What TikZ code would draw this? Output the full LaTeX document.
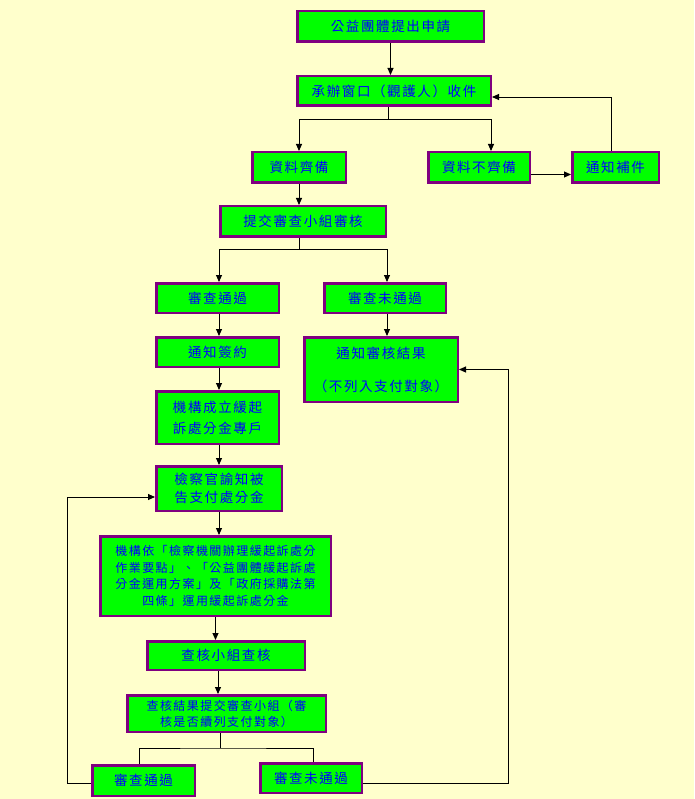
\documentclass[tikz,border=0pt]{standalone}
\usepackage{fontspec}
\newfontfamily\cjk{Noto Sans CJK TC}[LetterSpace=12]
\usetikzlibrary{arrows.meta}
\definecolor{paleyellow}{RGB}{255,255,204}
\definecolor{boxgreen}{RGB}{0,255,0}
\definecolor{boxpurple}{RGB}{128,0,128}
\definecolor{textblue}{RGB}{0,0,255}
\tikzset{
  paso/.style={
    draw=boxpurple,
    fill=boxgreen,
    line width=2.5pt,
    text=textblue,
    align=center,
    inner sep=2pt,
    font=\cjk\fontsize{13.5}{18}\selectfont
  },
  chico/.style={
    font=\cjk\fontsize{12}{16.5}\selectfont
  },
  arrow/.style={
    -{Triangle[length=7pt,width=6pt]},
    line width=.9pt,
    black
  },
  linea/.style={
    line width=.9pt,
    black
  }
}

\begin{document}
\begin{tikzpicture}[x=1pt,y=-1pt]
\fill[paleyellow] (0,0) rectangle (694,799);
\useasboundingbox (0,0) rectangle (694,799);
% solicitud y recepcion
\node[paso,minimum width=186.5pt,minimum height=30.5pt] (shenqing) at (390.5,26.5) {公益團體提出申請};
\node[paso,minimum width=193.5pt,minimum height=29.5pt] (shoujian) at (394,91) {承辦窗口（觀護人）收件};
\node[paso,minimum width=93.5pt,minimum height=30.5pt] (qibei) at (299,167.5) {資料齊備};
\node[paso,minimum width=101.5pt,minimum height=30.5pt] (buqibei) at (479,167.5) {資料不齊備};
\node[paso,minimum width=86.5pt,minimum height=30.5pt] (bujian) at (615.5,167.5) {通知補件};
% revision
\node[paso,minimum width=165.5pt,minimum height=30.5pt] (tijiao) at (303,221.5) {提交審查小組審核};
\node[paso,minimum width=122.5pt,minimum height=29.5pt] (tongguo) at (217.5,298) {審查通過};
\node[paso,minimum width=121.5pt,minimum height=29.5pt] (weitongguo) at (385,298) {審查未通過};
\node[paso,minimum width=122.5pt,minimum height=29.5pt] (qianyue) at (217.5,352) {通知簽約};
\node[paso,minimum width=153.5pt,minimum height=64.5pt,font=\cjk\fontsize{13.5}{16.5}\selectfont] (jieguo) at (381,369.5) {通知審核結果\\[16.5pt]（不列入支付對象）};
\node[paso,minimum width=122.5pt,minimum height=52.5pt,font=\cjk\fontsize{13.5}{21}\selectfont] (zhuanhu) at (217.5,417.5) {機構成立緩起\\訴處分金專戶};
\node[paso,minimum width=125.5pt,minimum height=44.5pt] (yuzhi) at (219,488.5) {檢察官諭知被\\告支付處分金};
% uso y control
\node[paso,chico,minimum width=230.5pt,minimum height=79.5pt] (yunyong) at (215.5,576) {機構依「檢察機關辦理緩起訴處分\\作業要點」、「公益團體緩起訴處\\分金運用方案」及「政府採購法第\\四條」運用緩起訴處分金};
\node[paso,minimum width=157.5pt,minimum height=28.5pt] (chahe) at (226,655.5) {查核小組查核};
\node[paso,chico,minimum width=198.5pt,minimum height=36.5pt,font=\cjk\fontsize{12}{16}\selectfont] (chaheJieguo) at (226.5,713.5) {查核結果提交審查小組（審\\核是否續列支付對象）};
\node[paso,minimum width=102.5pt,minimum height=30.5pt] (tongguoB) at (143.5,780.5) {審查通過};
\node[paso,minimum width=101.5pt,minimum height=29.5pt] (weitongguoB) at (311,778) {審查未通過};

\draw[arrow] (shenqing.south) -- (shenqing.south |- shoujian.north);
\draw[linea] ([xshift=-6pt]shoujian.south) -- ++(0,12) coordinate (f1);
\draw[arrow] (f1) -| (qibei.north);
\draw[arrow] (f1) -| ([xshift=12pt]buqibei.north);
\draw[arrow] ([yshift=-7pt]buqibei.east) -- ([yshift=-7pt]bujian.west);
\draw[arrow] ([xshift=-4pt]bujian.north) |- ([yshift=-6pt]shoujian.east);
\draw[arrow] (qibei.south) -- (qibei.south |- tijiao.north);
\draw[linea] (qibei.south |- tijiao.south) -- ++(0,11) coordinate (f2);
\draw[arrow] (f2) -| ([xshift=1.5pt]tongguo.north);
\draw[arrow] (f2) -| ([xshift=2pt]weitongguo.north);
\draw[arrow] ([xshift=1.5pt]tongguo.south) -- ([xshift=1.5pt]qianyue.north);
\draw[arrow] ([xshift=2pt]weitongguo.south) -- ([xshift=2pt]weitongguo.south |- jieguo.north);
\draw[arrow] ([xshift=1.5pt]qianyue.south) -- ([xshift=1.5pt]zhuanhu.north);
\draw[arrow] ([xshift=1.5pt]zhuanhu.south) -- ([xshift=1.5pt]zhuanhu.south |- yuzhi.north);
\draw[arrow] (yuzhi.south) -- (yuzhi.south |- yunyong.north);
\draw[arrow] (yunyong.south) -- (yunyong.south |- chahe.north);
\draw[arrow] ([xshift=-8pt]chahe.south) -- ([xshift=-8pt]chahe.south |- chaheJieguo.north);
\draw[linea] ([xshift=-6.5pt]chaheJieguo.south) -- ++(0,15) coordinate (f3);
\draw[linea] ([xshift=-4.5pt]tongguoB.north) |- (f3) -| ([xshift=2pt]weitongguoB.north);
\draw[arrow] ([yshift=-2.5pt]tongguoB.west) -- ++(-24,0) |- ([yshift=-8.5pt]yuzhi.west);
\draw[arrow] ([yshift=-5pt]weitongguoB.east) -- ++(145,0) |- (jieguo.east);
\end{tikzpicture}
\end{document}
